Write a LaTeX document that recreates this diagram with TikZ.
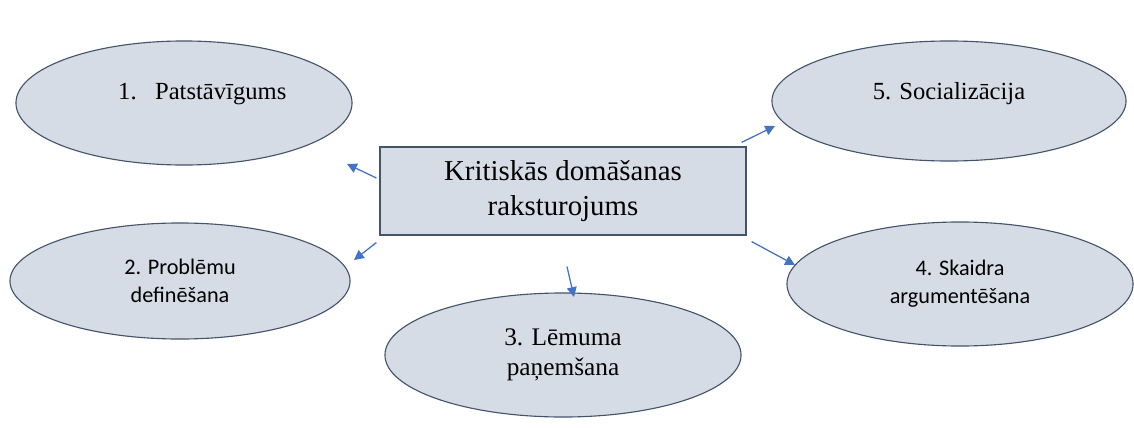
\documentclass[tikz,border=0pt]{standalone}
\usepackage{fontspec}
\setmainfont{Liberation Serif}
\newfontfamily\calibri{Carlito}
\usetikzlibrary{shapes.geometric,arrows.meta,calc}
\definecolor{fillgray}{HTML}{D6DCE5}
\definecolor{linegray}{HTML}{44546A}
\definecolor{arrowblue}{HTML}{4472C4}
\tikzset{>={Triangle[length=7pt,width=7pt]}}

\begin{document}
\begin{tikzpicture}[x=0.025cm, y=-0.025cm,
    oval/.style={ellipse, draw=linegray, fill=fillgray, line width=0.8pt, inner sep=0pt, align=center},
    serif/.style={font=\fontsize{17.5}{21}\selectfont},
    sans/.style={font=\calibri\fontsize{15.8}{19.5}\selectfont},
    main/.style={draw=linegray, fill=fillgray, line width=0.8pt, align=center,
      minimum width=9.15cm, minimum height=2.2cm, font=\fontsize{20.5}{25.5}\selectfont},
    arr/.style={->, draw=arrowblue, fill=arrowblue, line width=0.9pt}]
  \useasboundingbox (0,0) rectangle (1134,428);
  \node[main] (box) at (563,191) {Kritiskās domāšanas\\raksturojums};
  \node[oval,serif,minimum width=8.4cm,minimum height=3.1cm] (e1) at (184,103)
    {\raisebox{16pt}{\hspace*{26pt}1.\hspace{0.75em}Patstāvīgums}};
  \node[oval,sans,minimum width=8.5cm,minimum height=2.9cm] (e2) at (180,281)
    {2. Problēmu\\definēšana};
  \node[oval,serif,minimum width=8.9cm,minimum height=3.1cm,font=\fontsize{18}{21.5}\selectfont] (e3) at (563,355)
    {3. Lēmuma\\paņemšana};
  \node[oval,sans,minimum width=8.65cm,minimum height=3.1cm] (e4) at (960,284)
    {\raisebox{10pt}{\begin{tabular}{@{}c@{}}4. Skaidra\\argumentēšana\end{tabular}}};
  \node[oval,serif,minimum width=8.85cm,minimum height=3.0cm] (e5) at (949,101)
    {\raisebox{14pt}{5. Socializācija}};
  % free arrow tips
  \coordinate (t1) at (347,164);
  \coordinate (t2) at (354,260);
  \coordinate (t3) at (574,297);
  \coordinate (t4) at (795,265);
  \coordinate (t5) at (775,126);
  \draw[arr] ([shift={(-3,-13)}]box.west) -- (t1);
  \draw[arr] ([shift={(-3,7)}]box.south west) -- (t2);
  \draw[arr] ([shift={(4,31)}]box.south) -- (t3);
  \draw[arr] ([shift={(5,6)}]box.south east) -- (t4);
  \draw[arr] ([shift={(-5,-4)}]box.north east) -- (t5);
\end{tikzpicture}
\end{document}
